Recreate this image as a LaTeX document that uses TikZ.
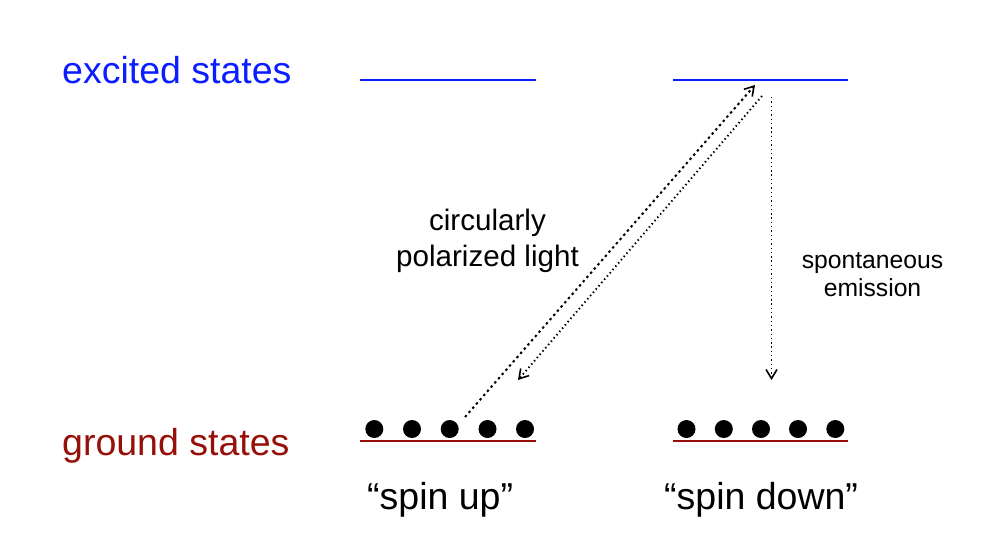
\documentclass[tikz,border=0pt]{standalone}
\usepackage{fontspec}
\setmainfont{Liberation Sans}
\usetikzlibrary{arrows.meta}
\definecolor{exc}{RGB}{10,30,255}
\definecolor{gnd}{RGB}{150,15,8}
\tikzset{
  biglabel/.style={inner sep=0pt,anchor=base west,font=\fontsize{37.5}{40}\selectfont},
  level/.style={line width=1.5pt},
  atom/.style={circle,fill=black,draw=none,minimum size=18pt,inner sep=0pt},
  photon/.style={-{Straight Barb[length=9pt,width=11pt,line width=1.6pt]}},
  finedash/.style={dash pattern=on 2.4pt off 3.2pt,line width=2pt},
  finedot/.style={dash pattern=on 1.4pt off 2.9pt,line width=1.9pt},
}
\begin{document}
\begin{tikzpicture}[x=1pt,y=-1pt]
\useasboundingbox (0,0) rectangle (1000,558);
\node[biglabel,text=exc] (exclabel) at (62,83) {excited states};
\node[biglabel,text=gnd] (gndlabel) at (62,455) {ground states};
\coordinate (e1a) at (360,80); \coordinate (e1b) at (536,80);
\coordinate (e2a) at (673,80); \coordinate (e2b) at (848,80);
\coordinate (g1a) at (360,441); \coordinate (g1b) at (536,441);
\coordinate (g2a) at (673,441); \coordinate (g2b) at (848,441);
\draw[level,exc] (e1a) -- (e1b);
\draw[level,exc] (e2a) -- (e2b);
\draw[level,gnd] (g1a) -- (g1b);
\draw[level,gnd] (g2a) -- (g2b);
\foreach \n/\x in {a1/374.3,a2/412,a3/449.7,a4/487.5,a5/525,b1/686.5,b2/723.8,b3/761,b4/798,b5/835.3}
  \node[atom] (\n) at (\x,429) {};
\coordinate (absstart) at (465,417); \coordinate (absend) at (755,85);
\coordinate (decstart) at (762,96); \coordinate (decend) at (518,380);
\coordinate (spstart) at (771.5,97); \coordinate (spend) at (771.5,380);
\draw[photon,finedash] (absstart) -- (absend);
\draw[photon,finedot] (decstart) -- (decend);
\draw[photon,finedot] (spstart) -- (spend);
\node[inner sep=0pt,align=center,font=\fontsize{29.6}{36}\selectfont] (cpl) at (487.5,240.5) {circularly\\polarized light};
\node[inner sep=0pt,align=center,font=\fontsize{24.7}{28}\selectfont] (sp) at (872.5,275) {spontaneous\\emission};
\node[biglabel] (up) at (367,509) {“spin up”};
\node[biglabel] (down) at (664,509) {“spin down”};
\end{tikzpicture}
\end{document}
